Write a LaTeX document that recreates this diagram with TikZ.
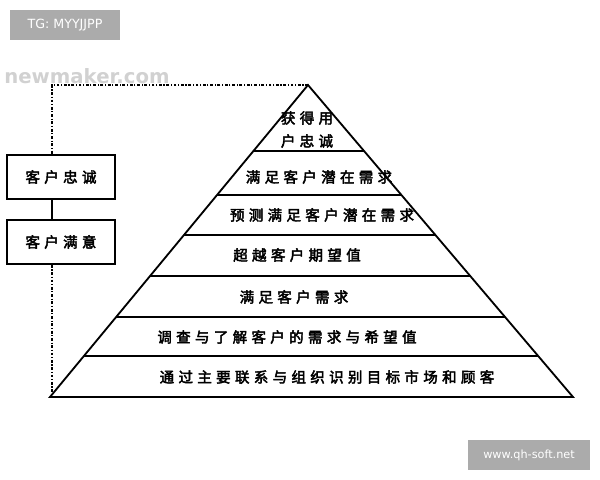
\documentclass[tikz,border=0pt]{standalone}
\usepackage{fontspec}
\usetikzlibrary{calc}
\newfontfamily\cjk[AutoFakeBold=3,LetterSpace=30]{Noto Sans CJK SC}
\newfontfamily\wmfont{DejaVu Sans}

\begin{document}
\begin{tikzpicture}[x=0.025cm,y=-0.025cm]
\tikzstyle{layer}=[font=\cjk\bfseries\fontsize{10.3}{12}\selectfont,inner sep=0pt]
\tikzstyle{level}=[line width=1.3pt]
\tikzstyle{stagebox}=[draw,line width=1.3pt,minimum width=2.68cm,minimum height=1.1cm,inner sep=0pt,font=\cjk\bfseries\fontsize{10.3}{12}\selectfont]
\tikzstyle{link}=[line width=1.2pt,dash pattern=on 2pt off 1.2pt on 0.8pt off 1.2pt]
\tikzstyle{stamp}=[fill=black!33,text=white,inner sep=0pt]

\useasboundingbox (0,0) rectangle (600,480);

\coordinate (top) at (308,85);
\coordinate (bl) at (50,397);
\coordinate (br) at (573,397);
\draw[level] (bl) -- (top) -- (br) -- cycle;
\foreach \t in {0.212,0.353,0.481,0.612,0.744,0.869}
  \draw[level] ($(top)!\t!(bl)$) -- ($(top)!\t!(br)$);

\node[layer] (l1a) at (307,118) {获得用};
\node[layer] (l1b) at (307,141) {户忠诚};
\node[layer] (l2) at (319,177) {满足客户潜在需求};
\node[layer] (l3) at (322,215) {预测满足客户潜在需求};
\node[layer] (l4) at (297,255) {超越客户期望值};
\node[layer] (l5) at (294,297) {满足客户需求};
\node[layer] (l6) at (287,337) {调查与了解客户的需求与希望值};
\node[layer] (l7) at (327,377) {通过主要联系与组织识别目标市场和顾客};

\node[stagebox] (loyal) at (61,177) {客户忠诚};
\node[stagebox] (satis) at (61,242) {客户满意};

\coordinate (corner) at (52,85);
\draw[link] (top) -- (corner) -- (corner |- loyal.north);
\draw[level] (loyal.south -| corner) -- (satis.north -| corner);
\draw[link] (satis.south -| corner) -- (corner |- bl);

\node[stamp,minimum width=2.75cm,minimum height=0.75cm,font=\wmfont\fontsize{9}{10}\selectfont] (tg) at (65,25) {TG: MYYJJPP};
\node[stamp,minimum width=3.05cm,minimum height=0.75cm,font=\wmfont\fontsize{8}{10}\selectfont] (site) at (529,455) {www.qh-soft.net};
\node[text=black!18,font=\wmfont\bfseries\fontsize{14}{16}\selectfont] (wm) at (87,76) {newmaker.com};
\end{tikzpicture}
\end{document}
